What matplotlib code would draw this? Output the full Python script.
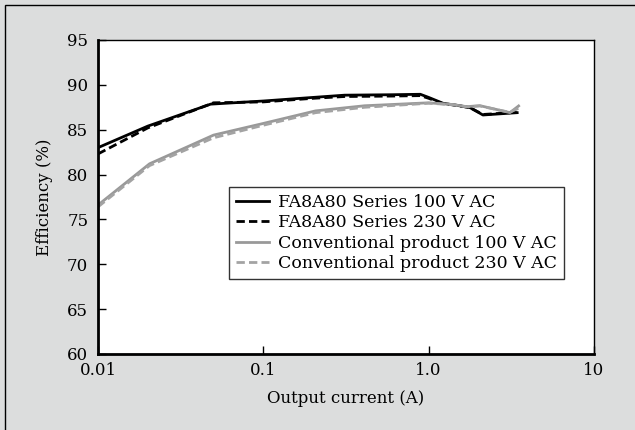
import matplotlib
matplotlib.use("Agg")
import matplotlib.pyplot as plt
from matplotlib.patches import Rectangle

# data
fa100_x = [0.01, 0.02, 0.048, 0.1, 0.2, 0.31, 0.6, 0.89, 1.0, 1.22, 1.5, 1.78, 2.13, 2.6, 3.43]
fa100_y = [83.0, 85.4, 87.85, 88.2, 88.6, 88.85, 88.9, 88.95, 88.6, 87.95, 87.7, 87.46, 86.64, 86.75, 86.9]

fa230_x = [0.01, 0.015, 0.02, 0.05, 0.1, 0.2, 0.31, 0.6, 0.89, 1.0, 1.22, 1.5, 1.78, 2.13, 2.6, 3.43]
fa230_y = [82.3, 84.0, 85.2, 88.0, 88.1, 88.5, 88.7, 88.75, 88.8, 88.5, 87.9, 87.7, 87.45, 86.7, 86.8, 86.95]

conv100_x = [0.01, 0.0205, 0.05, 0.1, 0.207, 0.41, 1.0, 1.4, 1.7, 2.04, 2.8, 3.1, 3.5]
conv100_y = [76.6, 81.2, 84.4, 85.7, 87.1, 87.67, 88.0, 87.8, 87.57, 87.68, 87.1, 86.9, 87.65]

conv230_x = [0.01, 0.0205, 0.05, 0.1, 0.207, 0.41, 1.0, 1.4, 1.7, 2.04, 2.8, 3.1, 3.5]
conv230_y = [76.4, 81.0, 84.1, 85.5, 86.9, 87.5, 87.95, 87.8, 87.55, 87.65, 87.1, 86.95, 87.4]

labels = ["FA8A80 Series 100 V AC", "FA8A80 Series 230 V AC",
          "Conventional product 100 V AC", "Conventional product 230 V AC"]

x_ticks = [0.01, 0.1, 1.0, 10]
x_ticklabels = ["0.01", "0.1", "1.0", "10"]
y_ticks = [60, 65, 70, 75, 80, 85, 90, 95]

plt.rcParams['font.family'] = ['DejaVu Serif']

fig = plt.figure(figsize=(6.35, 4.30), dpi=100)
fig.patch.set_facecolor("#dcdddd")
fig.patches.append(Rectangle((5 / 635, -0.01), 1.02, (425 + 4.3) / 430, transform=fig.transFigure,
                             fill=False, edgecolor="black", linewidth=1.0))

ax = fig.add_axes([98 / 635, (430 - 354) / 430, 496 / 635, 314 / 430])
ax.set_facecolor("white")

ax.plot(fa100_x, fa100_y, color="black", lw=2.0, label=labels[0])
ax.plot(fa230_x, fa230_y, color="black", lw=2.0, ls=(0, (3, 1.5)), label=labels[1])
ax.plot(conv100_x, conv100_y, color="#999999", lw=2.0, label=labels[2])
ax.plot(conv230_x, conv230_y, color="#a3a3a3", lw=2.0, ls=(0, (3, 1.5)), label=labels[3])

ax.set_xscale("log")
ax.set_xlim(0.01, 10)
ax.set_ylim(60, 95)
ax.set_xticks(x_ticks)
ax.set_xticklabels(x_ticklabels)
ax.minorticks_off()
ax.set_yticks(y_ticks)
ax.tick_params(direction="in", length=6, width=1.0, labelsize=12, colors="black")
ax.tick_params(axis="y", pad=7)
ax.tick_params(axis="x", pad=6)

for s in ["left", "bottom"]:
    ax.spines[s].set_linewidth(2.0)
for s in ["top", "right"]:
    ax.spines[s].set_linewidth(1.0)

ax.set_xlabel("Output current (A)", fontsize=12, labelpad=8)
ax.set_ylabel("Efficiency (%)", fontsize=12, labelpad=10)

leg = ax.legend(loc="upper left", bbox_to_anchor=(0.264, 0.532), fontsize=12.5,
                frameon=True, fancybox=False, edgecolor="black", handlelength=1.9,
                handletextpad=0.55, labelspacing=0.2, borderpad=0.4, borderaxespad=0)
leg.get_frame().set_linewidth(1.0)

fig.savefig("out.png", dpi=100, facecolor=fig.get_facecolor())
